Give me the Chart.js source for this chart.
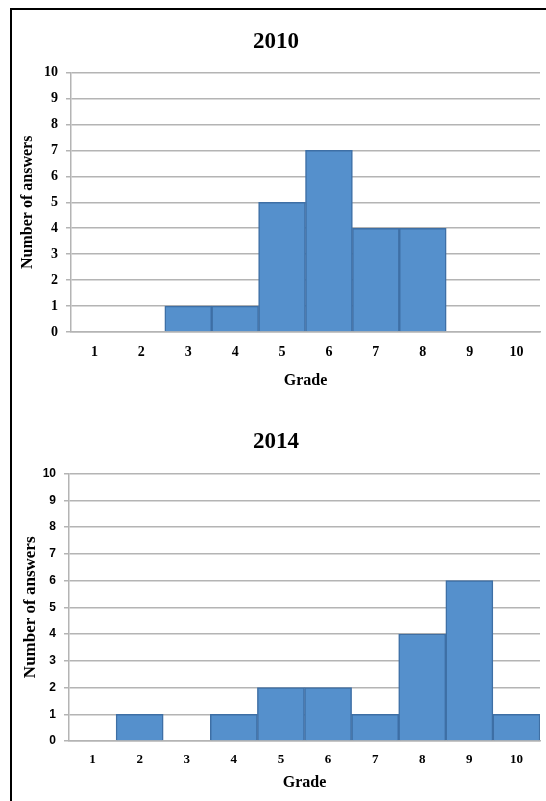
<!DOCTYPE html>
<html>
<head>
<meta charset="utf-8">
<script src="https://cdn.jsdelivr.net/npm/chart.js@4/dist/chart.umd.min.js"></script>
<style>
  html, body { margin: 0; padding: 0; background: #fff; }
  #page { position: relative; width: 546px; height: 801px; overflow: hidden; }
  #frame { position: absolute; left: 10px; top: 8px; width: 560px; height: 820px;
           border-left: 2px solid #000; border-top: 2px solid #000; }
  canvas { position: absolute; left: 0; }
  #c2010 { top: 0; }
  #c2014 { top: 400px; }
</style>
</head>
<body>
<div id="page">
  <div id="frame"></div>
  <canvas id="c2010" width="546" height="400"></canvas>
  <canvas id="c2014" width="546" height="401"></canvas>
</div>
<script>
// Grades 1-10 and how many answers fell into each grade
const grades = ['1', '2', '3', '4', '5', '6', '7', '8', '9', '10'];
const answers2010 = [0, 0, 1, 1, 5, 7, 4, 4, 0, 0];
const answers2014 = [0, 1, 0, 1, 2, 2, 1, 4, 6, 1];
const yMax = 10;

const fillBlue = '#5590cc';
const edgeBlue = '#3e6fa5';
const gridGray = '#b4b4b4';
const serif = "'Liberation Serif', 'DejaVu Serif', serif";
const sans = "'Liberation Sans', Arial, sans-serif";

function histogram(canvasId, year, values, cfg) {
  return new Chart(document.getElementById(canvasId), {
    type: 'bar',
    data: {
      labels: grades,
      datasets: [{
        data: values,
        backgroundColor: fillBlue,
        borderColor: edgeBlue,
        borderWidth: 1.5,
        barPercentage: 1,
        categoryPercentage: 1
      }]
    },
    options: {
      responsive: false,
      animation: false,
      events: [],
      layout: { padding: { left: 12, right: 6, top: 0, bottom: 0 } },
      plugins: {
        legend: { display: false },
        tooltip: { enabled: false },
        title: {
          display: true,
          text: year,
          color: '#000',
          font: { family: serif, size: 23, weight: 'bold', lineHeight: 1.2 },
          padding: { top: cfg.titleTop, bottom: cfg.titleBottom }
        }
      },
      scales: {
        x: {
          grid: { display: false, drawTicks: false },
          border: { display: true, color: gridGray, width: 1.5 },
          ticks: {
            color: '#000',
            padding: cfg.xTickPad,
            font: { family: serif, size: cfg.xTickSize, weight: 'bold' }
          },
          title: {
            display: true,
            text: 'Grade',
            color: '#000',
            font: { family: serif, size: 16, weight: 'bold', lineHeight: 1.2 },
            padding: { top: 0, bottom: cfg.gradePad }
          },
          afterFit: (s) => { s.height = cfg.xHeight; }
        },
        y: {
          min: 0,
          max: yMax,
          grid: { color: gridGray, lineWidth: 1.5, tickLength: 5, drawTicks: true },
          border: { display: true, color: gridGray, width: 1.5 },
          ticks: {
            stepSize: 1,
            color: '#000',
            padding: cfg.yTickPad,
            font: { family: cfg.yTickFamily, size: cfg.yTickSize, weight: 'bold' }
          },
          title: {
            display: true,
            text: 'Number of answers',
            color: '#000',
            font: { family: serif, size: cfg.yTitleSize, weight: 'bold', lineHeight: 1.2 },
            padding: { top: cfg.yTitlePad, bottom: 0 }
          },
          afterFit: (s) => { s.width = cfg.yWidth; }
        }
      }
    }
  });
}

histogram('c2010', '2010', answers2010, {
  titleTop: 28, titleBottom: 17,
  xTickPad: 12, xTickSize: 14, xHeight: 68, gradePad: 10,
  yTickPad: 8, yTickSize: 14, yTickFamily: serif,
  yTitleSize: 16, yTitlePad: 6, yWidth: 59
});

histogram('c2014', '2014', answers2014, {
  titleTop: 28, titleBottom: 18,
  xTickPad: 11, xTickSize: 13, xHeight: 60, gradePad: 9,
  yTickPad: 8, yTickSize: 12, yTickFamily: sans,
  yTitleSize: 17, yTitlePad: 8, yWidth: 57
});
</script>
</body>
</html>
